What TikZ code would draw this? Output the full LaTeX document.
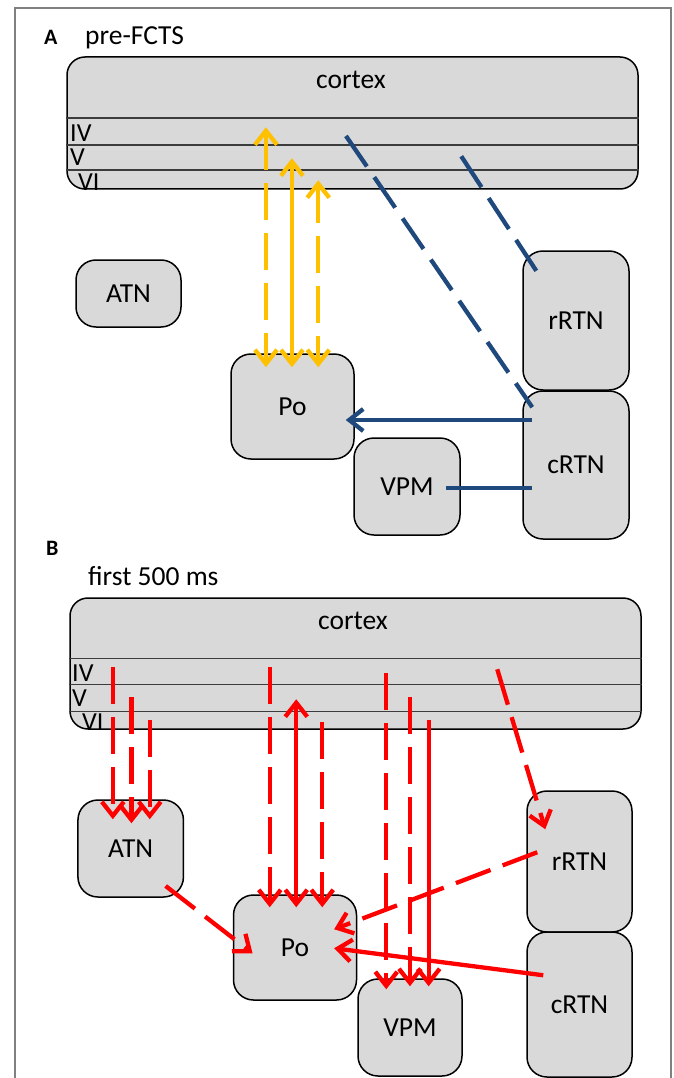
\documentclass[tikz,border=0pt]{standalone}
\usepackage{fontspec}
\setmainfont{Carlito}
\usetikzlibrary{arrows.meta,calc}

\definecolor{boxgray}{RGB}{217,217,217}
\definecolor{layerline}{RGB}{60,60,60}
\definecolor{framegray}{RGB}{128,128,128}
\definecolor{amber}{RGB}{255,192,0}
\definecolor{navy}{RGB}{31,73,125}
\definecolor{brightred}{RGB}{255,0,0}

\tikzset{
  region/.style={draw=black, line width=1.5pt, fill=boxgray, rounded corners=20pt,
    inner sep=0pt, font=\fontsize{27.5}{30}\selectfont},
  cortexbox/.style={region, rounded corners=18pt, minimum width=571pt},
  layer/.style={draw=layerline, line width=1.5pt},
  layerlbl/.style={inner sep=0pt, anchor=base west, font=\fontsize{26}{28}\selectfont},
  headline/.style={inner sep=0pt, anchor=base west, font=\fontsize{27.5}{30}\selectfont},
  ctxlbl/.style={inner sep=0pt, anchor=base, font=\fontsize{27.5}{30}\selectfont},
  panel/.style={inner sep=0pt, anchor=base west, font=\fontsize{22}{24}\selectfont\bfseries},
  tract/.style={line width=4.3pt, >={Straight Barb[length=14pt,width=22pt]}},
  dashtract/.style={tract, dash pattern=on 37pt off 13pt},
  yel/.style={tract, draw=amber},
  blu/.style={tract, draw=navy},
  rd/.style={tract, draw=brightred},
}

\begin{document}
\begin{tikzpicture}[x=1pt, y=-1pt]
\useasboundingbox (0,0) rectangle (673,1078);

% figure frame
\draw[framegray, line width=2pt] (15,1078) -- (15,8) -- (671,8) -- (671,1078);

% ---------------- panel A: pre-FCTS ----------------
\node[panel] (labA) at (44,45) {A};
\node[headline] (titleA) at (85,45) {pre-FCTS};

\node[cortexbox, minimum height=132pt] (ctxA) at (352.5,123) {};
\node[ctxlbl] (ctxAtxt) at (351,89) {cortex};
\foreach \d in {62,89,114}
  \draw[layer] ($(ctxA.north west)+(0,\d)$) -- ($(ctxA.north east)+(0,\d)$);
\node[layerlbl] (ivA) at (70,141.7) {IV};
\node[layerlbl] (vA) at (70,165.7) {V};
\node[layerlbl] (viA) at (78,190.5) {VI};

\node[region, minimum width=105pt, minimum height=67pt] (ATNA) at (128.5,293.5) {ATN};
\node[region, minimum width=123pt, minimum height=105pt] (PoA) at (292.5,406.5) {Po};
\node[region, minimum width=106pt, minimum height=97pt] (VPMA) at (407,486.5) {VPM};
\node[region, minimum width=106pt, minimum height=139pt] (rRTNA) at (576,320.5) {rRTN};
\node[region, minimum width=106pt, minimum height=148pt] (cRTNA) at (576,465) {cRTN};

% corticothalamic / thalamocortical loops with Po
\coordinate (yA1) at ($(ctxA.north west)+(199.7,71)$);
\coordinate (yA2) at ($(ctxA.north west)+(225.7,102)$);
\coordinate (yA3) at ($(ctxA.north west)+(252,124)$);
\draw[yel, dashtract, <->] (yA1) -- ($(yA1 |- PoA.north)+(0,14)$);
\draw[yel, <->] (yA2) -- ($(yA2 |- PoA.north)+(0,14)$);
\draw[yel, dashtract, <->] (yA3) -- ($(yA3 |- PoA.north)+(0,14)$);

% cortex to reticular nucleus
\coordinate (nA1) at ($(ctxA.north west)+(279.7,79.7)$);
\coordinate (nA2) at ($(ctxA.north west)+(395,100)$);
\draw[blu, dashtract] (nA1) -- ($(cRTNA.north west)+(10,17)$);
\draw[blu, dashtract] (nA2) -- ($(rRTNA.north west)+(15,22)$);

% reticular output
\coordinate (cA) at ($(cRTNA.west)+(10,-45)$);
\draw[blu, ->] (cA) -- ($(cA -| PoA.east)+(-9,0)$);
\coordinate (vA) at ($(VPMA.east)+(-15,1.5)$);
\draw[blu] (vA) -- ($(vA -| cRTNA.west)+(10,0)$);

% ---------------- panel B: first 500 ms ----------------
\node[panel] (labB) at (46,555) {B};
\node[headline] (titleB) at (88,585) {first 500 ms};

\node[cortexbox, minimum height=131pt] (ctxB) at (355.5,663.5) {};
\node[ctxlbl] (ctxBtxt) at (353,629) {cortex};
\foreach \d in {61,87,114}
  \draw[layer] ($(ctxB.north west)+(0,\d)$) -- ($(ctxB.north east)+(0,\d)$);
\node[layerlbl] (ivB) at (72,681.7) {IV};
\node[layerlbl] (vB) at (72,706.7) {V};
\node[layerlbl] (viB) at (82,730) {VI};

\node[region, minimum width=105.5pt, minimum height=97pt] (ATNB) at (130.7,848.5) {ATN};
\node[region, minimum width=123pt, minimum height=105pt] (PoB) at (295,947.5) {Po};
\node[region, minimum width=104pt, minimum height=97pt] (VPMB) at (410,1027.5) {VPM};
\node[region, minimum width=105pt, minimum height=141pt] (rRTNB) at (579.5,861.5) {rRTN};
\node[region, minimum width=105pt, minimum height=145pt] (cRTNB) at (579.5,1004.5) {cRTN};

% cortex to ATN
\coordinate (rA1) at ($(ctxB.north west)+(43.6,70)$);
\coordinate (rA2) at ($(ctxB.north west)+(62.2,100)$);
\coordinate (rA3) at ($(ctxB.north west)+(80.5,123)$);
\draw[rd, dashtract, ->] (rA1) -- ($(rA1 |- ATNB.north)+(0,20)$);
\draw[rd, dashtract, ->] (rA2) -- ($(rA2 |- ATNB.north)+(0,24)$);
\draw[rd, dashtract, ->] (rA3) -- ($(rA3 |- ATNB.north)+(0,20)$);

% cortex and Po
\coordinate (rP1) at ($(ctxB.north west)+(200.5,70)$);
\coordinate (rP2) at ($(ctxB.north west)+(227,102)$);
\coordinate (rP3) at ($(ctxB.north west)+(253,125)$);
\draw[rd, dashtract, ->] (rP1) -- ($(rP1 |- PoB.north)+(0,13)$);
\draw[rd, <->] (rP2) -- ($(rP2 |- PoB.north)+(0,13)$);
\draw[rd, dashtract, ->] (rP3) -- ($(rP3 |- PoB.north)+(0,13)$);

% cortex to VPM
\coordinate (rV1) at ($(ctxB.north west)+(317,76)$);
\coordinate (rV2) at ($(ctxB.north west)+(340.7,100)$);
\coordinate (rV3) at ($(ctxB.north west)+(359.4,123)$);
\draw[rd, dashtract, ->] (rV1) -- ($(rV1 |- VPMB.north)+(0,11)$);
\draw[rd, dashtract, ->] (rV2) -- ($(rV2 |- VPMB.north)+(0,8)$);
\draw[rd, ->] (rV3) -- ($(rV3 |- VPMB.north)+(0,8)$);

% cortex to rRTN
\coordinate (rR) at ($(ctxB.north west)+(428,72)$);
\draw[rd, dashtract, ->] (rR) -- ($(rRTNB.north west)+(19,39)$);

% inputs converging on Po
\draw[rd, dashtract, ->] ($(rRTNB.north west)+(11,62)$) -- ($(PoB.north west)+(101.4,35)$);
\draw[rd, dashtract, ->] ($(ATNB.north west)+(88.4,86.7)$) -- ($(PoB.north west)+(19.8,59)$);
\draw[rd, ->] ($(cRTNB.north west)+(17,44)$) -- ($(PoB.north west)+(101.4,54)$);
\end{tikzpicture}
\end{document}
